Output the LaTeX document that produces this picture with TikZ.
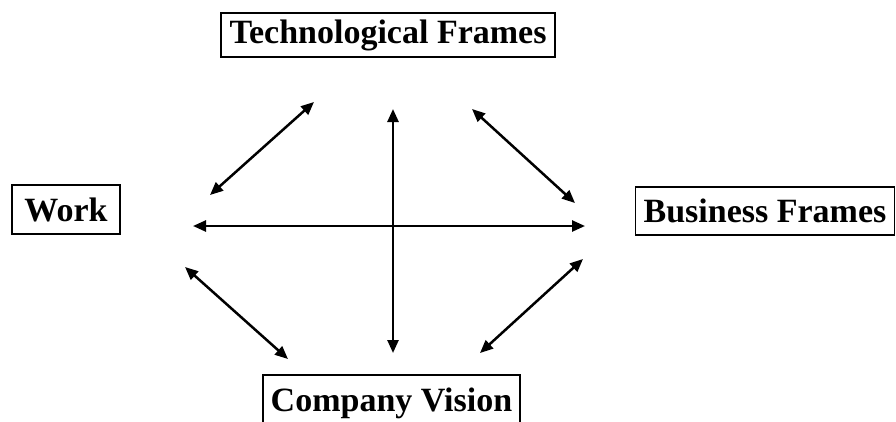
\documentclass[tikz,border=0pt]{standalone}
\usepackage{fontspec}
\setmainfont{Liberation Serif}
\usetikzlibrary{arrows.meta}
\begin{document}
\begin{tikzpicture}[x=1pt,y=-1pt,
  frame/.style={draw, line width=1.6pt, inner sep=0pt, align=center,
    font=\bfseries\fontsize{34}{37}\selectfont},
  tip/.style={Triangle[length=13pt,width=11pt]},
  link/.style={line width=2.5pt, {Triangle[length=13pt,width=11pt]}-{Triangle[length=13pt,width=11pt]}},
  ray/.style={line width=2.5pt, -{Triangle[length=13pt,width=11pt]}}]
\useasboundingbox (0,0) rectangle (896,421);

% the four frames
\node[frame, minimum width=334pt, minimum height=44pt] (tech) at (388,35) {Technological Frames};
\node[frame, minimum width=108pt, minimum height=49pt] (work) at (66,209.5) {Work};
\node[frame, minimum width=259pt, minimum height=48pt] (bus) at (765,211) {Business Frames};
\node[frame, minimum width=257pt, minimum height=56pt] (vis) at (391.5,403) {Company Vision};

% end points of the connectors
\coordinate (ulA) at (210,195);  \coordinate (ulB) at (314,102);
\coordinate (urA) at (472,109);  \coordinate (urB) at (575,203);
\coordinate (llA) at (185,267);  \coordinate (llB) at (288,359);
\coordinate (lrA) at (583,259);  \coordinate (lrB) at (480,353);
\coordinate (hL) at (193,226);   \coordinate (hR) at (585,226);
\coordinate (vT) at (393,109);   \coordinate (vB) at (393,353);
\coordinate (c) at (393,226);

% diagonal links
\draw[link] (ulA) -- (ulB);
\draw[link] (urA) -- (urB);
\draw[link] (llA) -- (llB);
\draw[link] (lrA) -- (lrB);

% central cross
\draw[link] (hL) -- (hR);
\draw[ray] (c) -- (vT);
\draw[ray] (c) -- (vB);
\end{tikzpicture}
\end{document}
